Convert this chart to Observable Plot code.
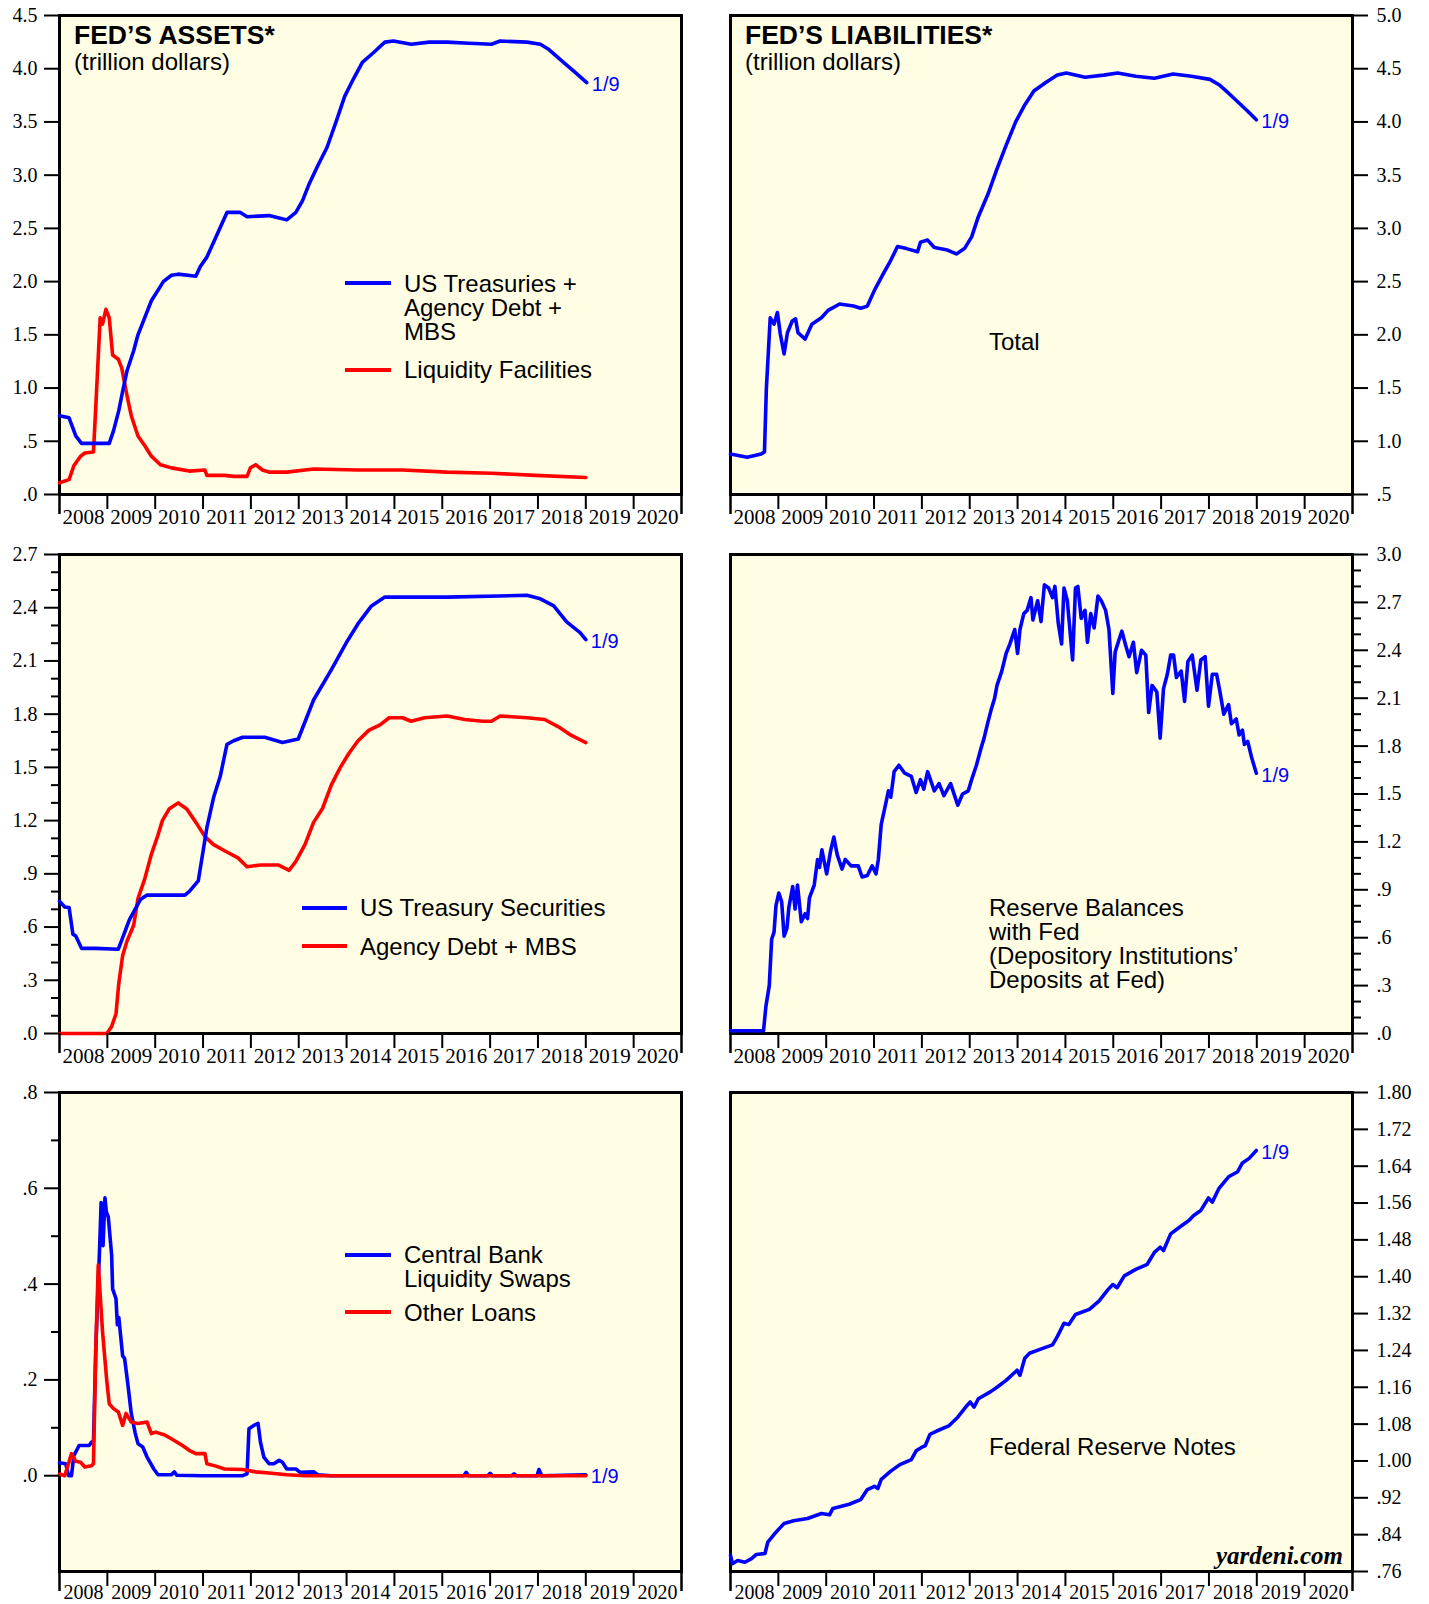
<!DOCTYPE html>
<html><head><meta charset="utf-8">
<script src="https://cdn.jsdelivr.net/npm/d3@7"></script>
<script src="https://cdn.jsdelivr.net/npm/@observablehq/plot@0.6"></script>
<style>
body{margin:0;background:#fff;}
#page{position:relative;width:1429px;height:1604px;overflow:hidden;background:#fff;}
.ann{position:absolute;white-space:nowrap;font-family:"Liberation Sans",Arial,sans-serif;color:#000;}
.sw{position:absolute;height:4px;}
svg.plot-panel{position:absolute;}
</style></head><body><div id="page"></div>
<script>
// ---------------- DATA (trillion dollars, x = decimal year) ----------------
const yearLabels = [2008,2009,2010,2011,2012,2013,2014,2015,2016,2017,2018,2019,2020];
const endLabel = "1/9";

// Panel 1: Fed's assets
const secDates = [2008.00,2008.20,2008.34,2008.46,2009.04,2009.13,2009.24,2009.32,2009.41,2009.55,2009.64,2009.78,2009.92,2010.06,2010.17,2010.34,2010.48,2010.85,2010.94,2011.08,2011.27,2011.50,2011.78,2011.92,2012.38,2012.57,2012.75,2012.94,2013.08,2013.22,2013.40,2013.59,2013.78,2013.96,2014.15,2014.33,2014.56,2014.80,2014.98,2015.35,2015.73,2016.10,2016.56,2017.03,2017.21,2017.77,2018.05,2018.23,2018.51,2018.79,2019.02];
const secValues = [0.74,0.72,0.55,0.48,0.48,0.60,0.79,0.97,1.16,1.35,1.50,1.66,1.82,1.92,2.00,2.06,2.07,2.05,2.14,2.23,2.42,2.65,2.65,2.61,2.62,2.60,2.58,2.65,2.76,2.92,3.09,3.26,3.50,3.74,3.91,4.06,4.15,4.25,4.26,4.23,4.25,4.25,4.24,4.23,4.26,4.25,4.23,4.18,4.07,3.96,3.87];
const liqDates = [2008.00,2008.20,2008.30,2008.44,2008.53,2008.71,2008.76,2008.85,2008.90,2008.97,2009.04,2009.11,2009.23,2009.30,2009.41,2009.50,2009.64,2009.78,2009.92,2010.11,2010.34,2010.71,2011.04,2011.08,2011.45,2011.64,2011.92,2011.99,2012.10,2012.24,2012.38,2012.75,2013.31,2014.24,2015.17,2016.10,2017.03,2017.95,2019.00];
const liqValues = [0.11,0.14,0.27,0.36,0.39,0.40,0.84,1.66,1.60,1.74,1.66,1.31,1.27,1.19,0.93,0.74,0.55,0.46,0.36,0.28,0.25,0.22,0.23,0.18,0.18,0.17,0.17,0.25,0.28,0.23,0.21,0.21,0.24,0.23,0.23,0.21,0.20,0.18,0.16];

// Panel 2: Fed's liabilities, total
const totDates = [2008.00,2008.35,2008.64,2008.71,2008.75,2008.83,2008.91,2008.98,2009.04,2009.12,2009.19,2009.29,2009.36,2009.41,2009.56,2009.70,2009.90,2010.04,2010.28,2010.57,2010.72,2010.86,2011.01,2011.20,2011.35,2011.49,2011.68,2011.91,2011.97,2012.12,2012.26,2012.51,2012.72,2012.89,2013.04,2013.18,2013.38,2013.57,2013.76,2013.96,2014.15,2014.34,2014.59,2014.83,2015.02,2015.41,2015.80,2016.09,2016.47,2016.86,2017.25,2017.63,2018.02,2018.21,2018.41,2018.60,2018.79,2018.99];
const totValues = [0.88,0.85,0.88,0.90,1.50,2.16,2.10,2.21,2.01,1.82,2.02,2.13,2.15,2.02,1.96,2.10,2.16,2.23,2.29,2.27,2.25,2.27,2.42,2.58,2.70,2.83,2.81,2.78,2.87,2.89,2.82,2.80,2.76,2.81,2.92,3.11,3.32,3.56,3.78,4.00,4.16,4.29,4.37,4.44,4.46,4.42,4.44,4.46,4.43,4.41,4.45,4.43,4.40,4.35,4.27,4.19,4.11,4.02];

// Panel 3: US Treasury securities and agency debt + MBS
const tsyDates = [2008.00,2008.11,2008.20,2008.28,2008.34,2008.46,2008.76,2009.23,2009.46,2009.69,2009.83,2010.62,2010.71,2010.90,2011.08,2011.22,2011.36,2011.50,2011.64,2011.83,2012.29,2012.66,2012.99,2013.31,2013.68,2014.01,2014.24,2014.52,2014.80,2016.10,2017.77,2018.05,2018.33,2018.60,2018.88,2019.00];
const tsyValues = [0.745,0.713,0.71,0.56,0.55,0.48,0.48,0.475,0.64,0.755,0.78,0.78,0.80,0.86,1.16,1.33,1.45,1.63,1.65,1.67,1.67,1.64,1.66,1.88,2.05,2.21,2.31,2.41,2.46,2.46,2.47,2.45,2.41,2.32,2.26,2.22];
const mbsDates = [2008.00,2008.99,2009.09,2009.18,2009.24,2009.32,2009.41,2009.55,2009.64,2009.78,2009.92,2010.06,2010.15,2010.29,2010.48,2010.66,2010.85,2011.04,2011.22,2011.45,2011.73,2011.92,2012.20,2012.57,2012.80,2012.94,2013.13,2013.31,2013.50,2013.68,2013.87,2014.05,2014.24,2014.47,2014.70,2014.89,2015.17,2015.35,2015.63,2016.10,2016.47,2016.84,2017.03,2017.21,2017.77,2018.14,2018.42,2018.70,2019.00];
const mbsValues = [0,0,0.04,0.11,0.285,0.44,0.52,0.61,0.76,0.87,1.01,1.12,1.20,1.265,1.30,1.265,1.19,1.11,1.065,1.03,0.99,0.94,0.95,0.95,0.92,0.97,1.065,1.19,1.27,1.40,1.50,1.58,1.65,1.71,1.74,1.78,1.78,1.76,1.78,1.79,1.77,1.76,1.76,1.79,1.78,1.77,1.73,1.68,1.64];

// Panel 4: reserve balances with Fed
const resDates = [2008.00,2008.69,2008.74,2008.81,2008.86,2008.91,2008.95,2009.01,2009.07,2009.12,2009.18,2009.22,2009.30,2009.35,2009.40,2009.48,2009.56,2009.61,2009.65,2009.75,2009.82,2009.86,2009.91,2010.01,2010.09,2010.16,2010.23,2010.33,2010.40,2010.52,2010.67,2010.75,2010.86,2010.96,2011.04,2011.09,2011.15,2011.23,2011.30,2011.35,2011.42,2011.52,2011.64,2011.78,2011.88,2011.97,2012.04,2012.12,2012.26,2012.36,2012.46,2012.60,2012.75,2012.85,2012.97,2013.04,2013.14,2013.23,2013.30,2013.38,2013.45,2013.52,2013.57,2013.67,2013.76,2013.84,2013.94,2014.00,2014.05,2014.13,2014.20,2014.28,2014.32,2014.42,2014.49,2014.56,2014.65,2014.73,2014.78,2014.85,2014.92,2014.97,2015.04,2015.09,2015.15,2015.21,2015.26,2015.33,2015.41,2015.46,2015.53,2015.60,2015.68,2015.75,2015.84,2015.91,2015.99,2016.04,2016.13,2016.18,2016.26,2016.33,2016.42,2016.49,2016.59,2016.68,2016.74,2016.81,2016.91,2016.98,2017.05,2017.13,2017.20,2017.26,2017.32,2017.42,2017.49,2017.56,2017.65,2017.75,2017.83,2017.92,2017.99,2018.07,2018.16,2018.23,2018.31,2018.41,2018.47,2018.57,2018.63,2018.70,2018.74,2018.81,2018.89,2018.99];
const resValues = [0.017,0.017,0.17,0.30,0.59,0.635,0.80,0.88,0.825,0.61,0.66,0.79,0.92,0.78,0.93,0.70,0.75,0.72,0.85,0.93,1.09,1.04,1.15,1.00,1.14,1.23,1.12,1.03,1.09,1.05,1.05,0.98,0.99,1.05,1.00,1.09,1.31,1.42,1.52,1.48,1.64,1.68,1.63,1.61,1.51,1.59,1.53,1.64,1.52,1.565,1.49,1.565,1.43,1.50,1.52,1.59,1.68,1.78,1.85,1.95,2.03,2.10,2.18,2.27,2.38,2.44,2.53,2.38,2.53,2.63,2.65,2.73,2.59,2.71,2.58,2.81,2.79,2.73,2.80,2.57,2.44,2.79,2.71,2.54,2.34,2.79,2.80,2.60,2.65,2.45,2.63,2.54,2.74,2.71,2.65,2.53,2.13,2.39,2.475,2.52,2.43,2.36,2.45,2.26,2.40,2.37,2.01,2.18,2.14,1.85,2.16,2.25,2.37,2.37,2.23,2.27,2.08,2.33,2.37,2.15,2.34,2.36,2.05,2.25,2.25,2.14,2.00,2.06,1.94,1.97,1.87,1.90,1.81,1.83,1.73,1.63];

// Panel 5: central bank liquidity swaps and other loans
const swpDates = [2008.00,2008.13,2008.19,2008.25,2008.30,2008.41,2008.62,2008.67,2008.71,2008.76,2008.84,2008.87,2008.91,2008.95,2008.98,2009.02,2009.09,2009.11,2009.18,2009.21,2009.24,2009.32,2009.36,2009.43,2009.50,2009.58,2009.64,2009.74,2009.83,2009.97,2010.06,2010.34,2010.40,2010.45,2010.99,2011.83,2011.92,2011.96,2012.06,2012.15,2012.20,2012.27,2012.38,2012.48,2012.59,2012.66,2012.75,2012.94,2013.03,2013.31,2013.40,2013.68,2016.45,2016.50,2016.55,2016.95,2017.00,2017.05,2017.45,2017.50,2017.55,2017.98,2018.02,2018.08,2019.00];
const swpValues = [0.027,0.025,0,0,0.042,0.063,0.063,0.07,0.07,0.27,0.48,0.57,0.48,0.58,0.55,0.54,0.46,0.39,0.37,0.315,0.33,0.25,0.245,0.19,0.13,0.09,0.067,0.06,0.039,0.014,0.002,0.002,0.008,0.001,0,0,0.004,0.098,0.105,0.109,0.07,0.039,0.025,0.025,0.032,0.028,0.014,0.014,0.007,0.008,0.002,0,0,0.007,0,0,0.005,0,0,0.004,0,0,0.013,0,0.002];
const loanDates = [2008.00,2008.11,2008.25,2008.34,2008.44,2008.53,2008.67,2008.71,2008.76,2008.81,2008.90,2008.99,2009.04,2009.13,2009.23,2009.32,2009.39,2009.50,2009.64,2009.83,2009.92,2010.01,2010.20,2010.39,2010.57,2010.71,2010.85,2011.04,2011.08,2011.27,2011.45,2011.83,2012.10,2012.38,2012.75,2013.13,2019.00];
const loanValues = [0.0035,0,0.046,0.03,0.028,0.018,0.021,0.025,0.27,0.44,0.30,0.196,0.15,0.14,0.133,0.105,0.13,0.112,0.109,0.112,0.088,0.091,0.085,0.074,0.063,0.053,0.046,0.046,0.025,0.02,0.014,0.013,0.008,0.0056,0.002,0,0];

// Panel 6: Federal Reserve notes
const frnDates = [2008.00,2008.04,2008.15,2008.30,2008.44,2008.54,2008.72,2008.78,2008.93,2009.01,2009.12,2009.32,2009.61,2009.90,2010.07,2010.14,2010.48,2010.72,2010.86,2011.01,2011.08,2011.15,2011.35,2011.54,2011.78,2011.88,2012.00,2012.07,2012.17,2012.31,2012.56,2012.75,2012.94,2013.01,2013.09,2013.18,2013.43,2013.57,2013.76,2013.99,2014.05,2014.15,2014.25,2014.54,2014.73,2014.83,2014.97,2015.07,2015.21,2015.50,2015.70,2015.89,2015.99,2016.08,2016.23,2016.47,2016.71,2016.86,2016.98,2017.05,2017.20,2017.39,2017.58,2017.68,2017.83,2017.99,2018.07,2018.21,2018.41,2018.60,2018.70,2018.84,2018.99];
const frnValues = [0.795,0.777,0.784,0.780,0.788,0.797,0.799,0.824,0.843,0.852,0.864,0.870,0.875,0.886,0.883,0.897,0.906,0.916,0.938,0.945,0.940,0.960,0.978,0.992,1.003,1.022,1.030,1.033,1.058,1.065,1.076,1.095,1.120,1.128,1.117,1.135,1.150,1.160,1.175,1.197,1.186,1.223,1.234,1.245,1.252,1.270,1.299,1.296,1.318,1.329,1.347,1.372,1.383,1.376,1.402,1.416,1.427,1.453,1.464,1.457,1.493,1.508,1.522,1.533,1.544,1.571,1.562,1.592,1.617,1.628,1.647,1.657,1.674];

// Axis ticks
const ticksAssets = [0,0.5,1,1.5,2,2.5,3,3.5,4,4.5];
const ticksTotal = [0.5,1,1.5,2,2.5,3,3.5,4,4.5,5];
const ticksSec = [0,0.3,0.6,0.9,1.2,1.5,1.8,2.1,2.4,2.7];
const minorSec = [0.1,0.2,0.4,0.5,0.7,0.8,1.0,1.1,1.3,1.4,1.6,1.7,1.9,2.0,2.2,2.3,2.5,2.6];
const ticksRes = [0,0.3,0.6,0.9,1.2,1.5,1.8,2.1,2.4,2.7,3.0];
const minorRes = [0.1,0.2,0.4,0.5,0.7,0.8,1.0,1.1,1.3,1.4,1.6,1.7,1.9,2.0,2.2,2.3,2.5,2.6,2.8,2.9];
const ticksSwp = [0,0.2,0.4,0.6,0.8];
const minorSwp = [0.1,0.3,0.5,0.7];
const ticksFrn = [0.76,0.84,0.92,1.00,1.08,1.16,1.24,1.32,1.40,1.48,1.56,1.64,1.72,1.80];

// ---------------- STYLE / LAYOUT ----------------
const BG = "#FFFEE4";
const BLUE = "#0000FF", RED = "#FF0000";
const SERIF = "Liberation Serif, Times New Roman, serif";
const SANS = "Liberation Sans, Arial, sans-serif";
const FW = 622, FH = 479;
const page = document.getElementById("page");

const zip = (xs, ys) => xs.map((x, i) => ({x, y: ys[i]}));
const fmt1 = v => d3.format(".1f")(v).replace(/^0\./, ".");
const fmt2 = v => d3.format(".2f")(v).replace(/^0\./, ".");

function panel(cfg) {
  const {sx, sy, w, h, fx, fy, yDomain, major, minor, fmt, anchor, lines, yearPad, yearSize} = cfg;
  const mL = fx - sx, mT = fy - sy;
  const marks = [
    Plot.frame({fill: BG, stroke: null}),
    Plot.frame({stroke: "#000", strokeWidth: 3})
  ];
  for (const l of lines) {
    marks.push(Plot.line(zip(l.xs, l.ys), {x: "x", y: "y", stroke: l.color, strokeWidth: 3.6, strokeLinejoin: "round", strokeLinecap: "round"}));
  }
  marks.push(Plot.axisY({anchor, ticks: major, tickSize: 15, tickPadding: anchor === "right" ? 9 : 7, tickFormat: fmt, fontSize: 20, fontFamily: SERIF, strokeWidth: 2, label: null}));
  if (minor) marks.push(Plot.axisY({anchor, ticks: minor, tickSize: 8, tickFormat: () => "", strokeWidth: 2, label: null}));
  marks.push(Plot.axisX({ticks: yearLabels.slice(1), tickSize: 15, tickFormat: () => "", strokeWidth: 2, label: null}));
  marks.push(Plot.axisX({ticks: [2008, 2021], tickSize: 20, tickFormat: () => "", strokeWidth: 2.5, label: null}));
  marks.push(Plot.axisX({ticks: yearLabels.map(y => y + 0.5), tickSize: 0, tickPadding: yearPad, tickFormat: d => String(Math.floor(d)), fontSize: yearSize, fontFamily: SERIF, label: null}));
  const endLine = lines.find(l => l.end);
  if (endLine) {
    const n = endLine.xs.length - 1;
    marks.push(Plot.text([{x: endLine.xs[n], y: endLine.ys[n]}], {x: "x", y: "y", text: () => endLabel, dx: 5, dy: 2, textAnchor: "start", fill: BLUE, fontSize: 20, fontFamily: SANS}));
  }
  const svg = Plot.plot({
    width: w, height: h,
    marginLeft: mL, marginTop: mT, marginRight: w - mL - FW, marginBottom: h - mT - FH,
    x: {domain: [2008, 2021]},
    y: {domain: yDomain},
    style: {background: "transparent", overflow: "visible"},
    marks
  });
  svg.classList.add("plot-panel");
  svg.style.left = sx + "px";
  svg.style.top = sy + "px";
  svg.style.maxWidth = "none";
  page.appendChild(svg);
}

const COLS = [{sx: 0, w: 714, fx: 59}, {sx: 714, w: 715, fx: 730}];
const ROWS = [
  {sy: 0, h: 540, fy: 15, yearPad: 15, yearSize: 21},
  {sy: 540, h: 540, fy: 554, yearPad: 15, yearSize: 21},
  {sy: 1080, h: 524, fy: 1092, yearPad: 13, yearSize: 20}
];

panel({...COLS[0], ...ROWS[0], yDomain: [0, 4.5], major: ticksAssets, fmt: fmt1, anchor: "left",
  lines: [{xs: liqDates, ys: liqValues, color: RED}, {xs: secDates, ys: secValues, color: BLUE, end: true}]});
panel({...COLS[1], ...ROWS[0], yDomain: [0.5, 5], major: ticksTotal, fmt: fmt1, anchor: "right",
  lines: [{xs: totDates, ys: totValues, color: BLUE, end: true}]});
panel({...COLS[0], ...ROWS[1], yDomain: [0, 2.7], major: ticksSec, minor: minorSec, fmt: fmt1, anchor: "left",
  lines: [{xs: mbsDates, ys: mbsValues, color: RED}, {xs: tsyDates, ys: tsyValues, color: BLUE, end: true}]});
panel({...COLS[1], ...ROWS[1], yDomain: [0, 3], major: ticksRes, minor: minorRes, fmt: fmt1, anchor: "right",
  lines: [{xs: resDates, ys: resValues, color: BLUE, end: true}]});
panel({...COLS[0], ...ROWS[2], yDomain: [-0.2, 0.8], major: ticksSwp, minor: minorSwp, fmt: fmt1, anchor: "left",
  lines: [{xs: swpDates, ys: swpValues, color: BLUE, end: true}, {xs: loanDates, ys: loanValues, color: RED}]});
panel({...COLS[1], ...ROWS[2], yDomain: [0.76, 1.80], major: ticksFrn, fmt: fmt2, anchor: "right",
  lines: [{xs: frnDates, ys: frnValues, color: BLUE, end: true}]});

// ---------------- ANNOTATIONS (HTML overlay) ----------------
function label(text, x, baseline, size, opts = {}) {
  const d = document.createElement("div");
  d.className = "ann";
  d.textContent = text;
  const serif = !!opts.serif;
  const L = opts.lh || size;
  d.style.fontFamily = serif ? SERIF : SANS;
  d.style.fontSize = size + "px";
  d.style.lineHeight = L + "px";
  if (opts.bold) d.style.fontWeight = "bold";
  if (opts.italic) d.style.fontStyle = "italic";
  d.style.top = (baseline - (L / 2 + (serif ? 0.3375 : 0.3465) * size)) + "px";
  if (opts.right != null) { d.style.right = (1429 - opts.right) + "px"; } else { d.style.left = x + "px"; }
  page.appendChild(d);
}
function swatch(x1, x2, yc, color) {
  const d = document.createElement("div");
  d.className = "sw";
  d.style.left = x1 + "px"; d.style.width = (x2 - x1) + "px";
  d.style.top = (yc - 2) + "px"; d.style.background = color;
  page.appendChild(d);
}
const T = {lh: 20};

label("FED’S ASSETS*", 74, 44, 26.5, {bold: true});
label("(trillion dollars)", 74, 70, 24);
swatch(345, 391, 283, BLUE);
label("US Treasuries +", 404, 292, 24, T);
label("Agency Debt +", 404, 316, 24, T);
label("MBS", 404, 340, 24, T);
swatch(345, 391, 370, RED);
label("Liquidity Facilities", 404, 378, 24, T);

label("FED’S LIABILITIES*", 745, 44, 26.5, {bold: true});
label("(trillion dollars)", 745, 70, 24);
label("Total", 989, 350, 24, T);

swatch(302, 347, 908, BLUE);
label("US Treasury Securities", 360, 916, 24, T);
swatch(302, 347, 946, RED);
label("Agency Debt + MBS", 360, 955, 24, T);

label("Reserve Balances", 989, 916, 24, T);
label("with Fed", 989, 940, 24, T);
label("(Depository Institutions’", 989, 964, 24, T);
label("Deposits at Fed)", 989, 988, 24, T);

swatch(345, 391, 1255, BLUE);
label("Central Bank", 404, 1263, 24, T);
label("Liquidity Swaps", 404, 1287, 24, T);
swatch(345, 391, 1312, RED);
label("Other Loans", 404, 1321, 24, T);

label("Federal Reserve Notes", 989, 1455, 24, T);
label("yardeni.com", 0, 1564, 25, {serif: true, bold: true, italic: true, right: 1343});
</script></body></html>
